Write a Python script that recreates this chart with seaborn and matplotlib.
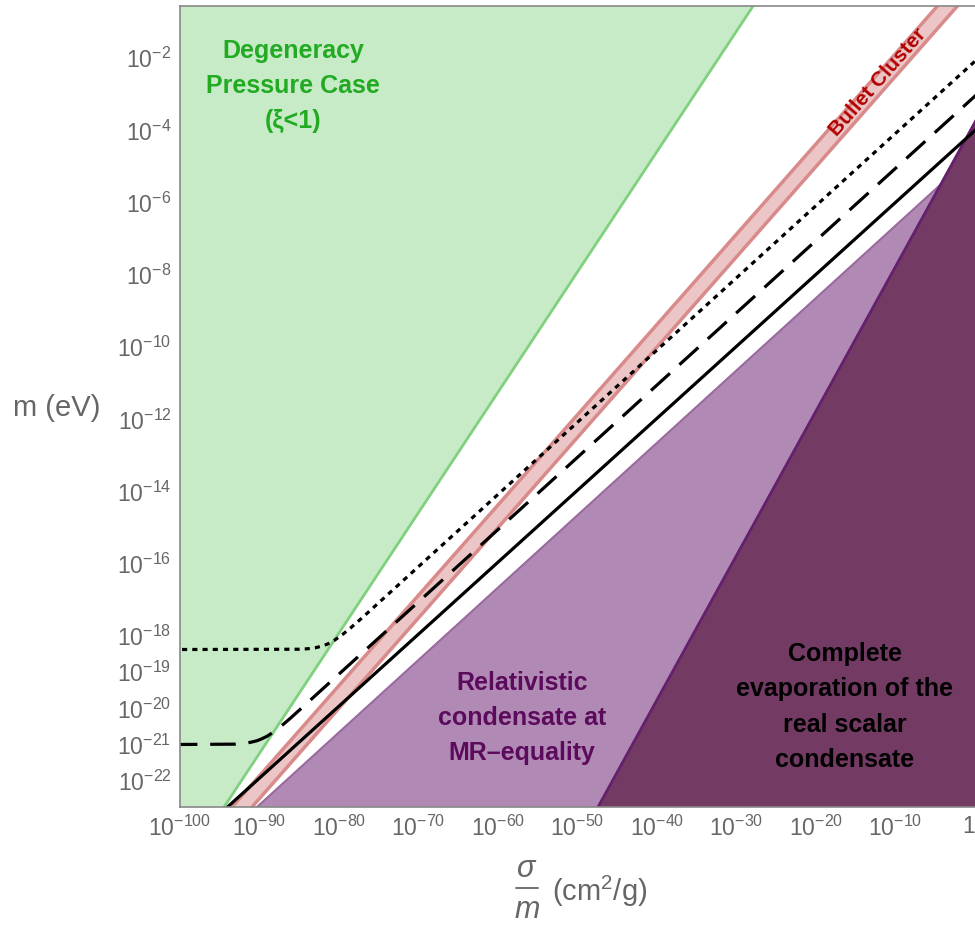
import numpy as np
import pandas as pd
import seaborn as sns
import matplotlib
matplotlib.use("Agg")
import matplotlib.pyplot as plt
from matplotlib.lines import Line2D

# ---------------- data (log10 values) ----------------
# x = log10(sigma/m [cm^2/g]), y = log10(m [eV])
green_edge_x = [-95.25, -26.99]
green_edge_y = [-23.0, -0.25]

relat_edge_x = [-91.64, 1.0]
relat_edge_y = [-23.0, -4.43]

evap_edge_x = [-48.08, 1.0]
evap_edge_y = [-23.0, -3.37]

bullet_up_x = [-94.51, -3.51]
bullet_up_y = [-23.0, -0.25]
bullet_lo_x = [-92.0, -1.0]
bullet_lo_y = [-23.0, -0.25]

solid_x = [-95.35, 1.0]
solid_y = [-23.0, -3.80]

dashed_x = [-101.0, -93.0, -92.0, -91.0, -90.3, -89.77, -89.0, -88.0, -87.0, -86.0, 1.0]
dashed_y = [-21.0, -20.99, -20.974, -20.934, -20.896, -20.85, -20.769, -20.62, -20.444, -20.254, -2.847]

dotted_x = [-101.0, -85.0, -84.0, -83.0, -82.0, -81.44, -80.5, -79.5, -78.5, -77.0, 1.0]
dotted_y = [-18.37, -18.362, -18.35, -18.324, -18.268, -18.22, -18.106, -17.948, -17.768, -17.478, -1.882]

ytick_exp = [-2, -4, -6, -8, -10, -12, -14, -16, -18, -19, -20, -21, -22]
xtick_exp = [-100, -90, -80, -70, -60, -50, -40, -30, -20, -10, 0]

xlim_exp = (-100.0, 0.63)
ylim_exp = (-22.73, -0.553)

# ---------------- style ----------------
sns.set_theme(style="white")
plt.rcParams["font.family"] = ["Liberation Sans", "DejaVu Sans"]
plt.rcParams["mathtext.fontset"] = "custom"
plt.rcParams["mathtext.rm"] = "Liberation Sans"
plt.rcParams["mathtext.it"] = "Liberation Sans:italic"
plt.rcParams["mathtext.bf"] = "Liberation Sans:bold"
plt.rcParams["mathtext.default"] = "regular"

GREEN_FILL = "#c6ebc6"
GREEN_EDGE = "#80d080"
LPURP_FILL = "#b08ab4"
LPURP_EDGE = "#9a6a9f"
DPURP_FILL = "#733a63"
DPURP_EDGE = "#65206c"
RED_FILL = "#ecc6c6"
RED_EDGE = "#d98a8a"
GREY_TXT = "#666666"

fig = plt.figure(figsize=(9.75, 9.26), dpi=100)
ax = fig.add_axes([179.8 / 975, 119 / 926, 800.2 / 975, 801 / 926])
ax.set_xscale("log")
ax.set_yscale("log")
ax.set_xlim(10 ** xlim_exp[0], 10 ** xlim_exp[1])
ax.set_ylim(10 ** ylim_exp[0], 10 ** ylim_exp[1])

p = lambda v: 10 ** np.asarray(v, dtype=float)

# green region (left of edge)
gx = [-101.0] + green_edge_x + [-101.0]
gy = [green_edge_y[0]] + green_edge_y + [green_edge_y[1]]
ax.fill(p(gx), p(gy), color=GREEN_FILL, lw=0, zorder=1)
ax.plot(p(green_edge_x), p(green_edge_y), color=GREEN_EDGE, lw=2, zorder=1.1)

# light purple (below edge)
lx = relat_edge_x + [relat_edge_x[1]]
ly = relat_edge_y + [relat_edge_y[0]]
ax.fill(p(lx), p(ly), color=LPURP_FILL, lw=0, zorder=1.2)
ax.plot(p(relat_edge_x), p(relat_edge_y), color=LPURP_EDGE, lw=1.5, zorder=1.3)

# dark purple
dx = evap_edge_x + [evap_edge_x[1]]
dy = evap_edge_y + [evap_edge_y[0]]
ax.fill(p(dx), p(dy), color=DPURP_FILL, lw=0, zorder=1.4)
ax.plot(p(evap_edge_x), p(evap_edge_y), color=DPURP_EDGE, lw=2, zorder=1.5)

# bullet cluster band
bx = bullet_up_x + bullet_lo_x[::-1]
by = bullet_up_y + bullet_lo_y[::-1]
ax.fill(p(bx), p(by), color=RED_FILL, lw=0, zorder=2)
for xs, ys in [(bullet_up_x, bullet_up_y), (bullet_lo_x, bullet_lo_y)]:
    sns.lineplot(x=p(xs), y=p(ys), ax=ax, color=RED_EDGE, lw=2.5,
                 sort=False, estimator=None, zorder=2.1)

# black lines
sns.lineplot(x=p(solid_x), y=p(solid_y), ax=ax, color="black", lw=2.3,
             sort=False, estimator=None, zorder=3)
sns.lineplot(x=p(dashed_x), y=p(dashed_y), ax=ax, color="black", lw=2.3,
             sort=False, estimator=None, zorder=3)
ax.lines[-1].set_dashes((8, 4))
ax.lines[-1].set_dash_capstyle("butt")
sns.lineplot(x=p(dotted_x), y=p(dotted_y), ax=ax, color="black", lw=2.3,
             sort=False, estimator=None, zorder=3)
ax.lines[-1].set_dashes((1.6, 1.6))
ax.lines[-1].set_dash_capstyle("butt")

# ticks
ax.set_yticks(p(ytick_exp))
ax.set_yticklabels([r"$10^{%d}$" % e for e in ytick_exp])
ax.set_xticks(p(xtick_exp))
ax.set_xticklabels([("1" if e == 0 else r"$10^{%d}$" % e) for e in xtick_exp])
ax.minorticks_off()
ax.tick_params(axis="both", which="major", direction="in", length=7, width=1,
               color="#888888", labelcolor=GREY_TXT, labelsize=16.5, pad=6)
# the last x label ("1") sits at the right figure edge: right-align it so it stays visible
ax.get_xticklabels()[-1].set_ha("right")

for s in ax.spines.values():
    s.set_color("#888888")
    s.set_linewidth(1.2)
    s.set_zorder(5)

ax.set_ylabel("m (eV)", rotation=0, fontsize=21, color=GREY_TXT)
ax.yaxis.set_label_coords((57 - 179.8) / 800.2, (807 - 408) / 801)
ax.yaxis.label.set_ha("center")
ax.yaxis.label.set_va("center")

# x label: sigma / m fraction + units, built from pieces (figure pixel coords)
W, H = 975.0, 926.0
fig.text(527 / W, 1 - 869 / H, r"$\mathit{\sigma}$", fontsize=22, color=GREY_TXT,
         ha="center", va="center")
fig.text(527 / W, 1 - 910 / H, r"$\mathit{m}$", fontsize=22, color=GREY_TXT,
         ha="center", va="center")
fig.add_artist(Line2D([516 / W, 538 / W], [1 - 888 / H, 1 - 888 / H],
                      color=GREY_TXT, lw=1.3, transform=fig.transFigure))
fig.text(552 / W, 1 - 891 / H, r"(cm$^{2}$/g)", fontsize=21, color=GREY_TXT,
         ha="left", va="center")

# annotations
def fx(px):
    return (px - 179.8) / 800.2

def fy(py):
    return (807 - py) / 801

ax.text(fx(293), fy(86), "Degeneracy\nPressure Case\n(\u03be<1)", transform=ax.transAxes,
        ha="center", va="center", fontsize=18, fontweight="bold", color="#22aa22",
        linespacing=1.6, zorder=6)
ax.text(fx(522), fy(718), "Relativistic\ncondensate at\nMR\u2013equality", transform=ax.transAxes,
        ha="center", va="center", fontsize=18, fontweight="bold", color="#5c0a5c",
        linespacing=1.6, zorder=6)
ax.text(fx(845), fy(707), "Complete\nevaporation of the\nreal scalar\ncondensate",
        transform=ax.transAxes, ha="center", va="center", fontsize=18, fontweight="bold",
        color="black", linespacing=1.6, zorder=6)
ax.text(fx(878), fy(82), "Bullet Cluster", transform=ax.transAxes, ha="center", va="center",
        rotation=48.7, rotation_mode="anchor", fontsize=15, fontweight="bold",
        color="#b30000", zorder=6)

fig.savefig("out.png", dpi=100)
